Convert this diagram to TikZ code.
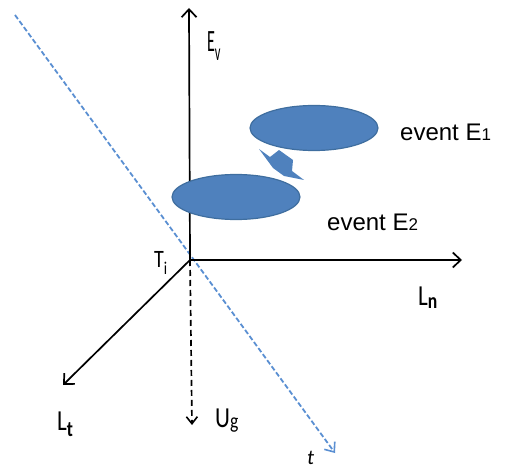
\documentclass[tikz,border=0pt]{standalone}
\usepackage{fontspec}
\setmainfont{Liberation Sans}
\newfontfamily\carl{Carlito}
\usetikzlibrary{arrows.meta,shapes.geometric}
\definecolor{evfill}{HTML}{4F81BD}
\definecolor{evline}{HTML}{3F6E9F}
\definecolor{tline}{HTML}{5A8FD2}
\tikzset{
  axis/.style={line width=1.7pt,-{Straight Barb[length=8pt,width=15pt,line width=1.7pt]}},
  dashaxis/.style={line width=1.7pt,dash pattern=on 6pt off 4pt,-{Straight Barb[length=7pt,width=11pt,line width=1.6pt]}},
  tarrow/.style={line width=1.8pt,color=tline,dash pattern=on 5pt off 2.5pt,-{Straight Barb[length=8pt,width=13pt,line width=1.6pt]}},
  evnode/.style={ellipse,fill=evfill,draw=evline,line width=1.2pt,minimum width=128pt,minimum height=45pt,inner sep=0pt},
  evtext/.style={anchor=base west,inner sep=0pt,font=\fontsize{24}{24}\selectfont},
  axlab/.style={anchor=base west,inner sep=0pt,font=\carl\fontsize{29}{29}\selectfont,xscale=0.8}
}
\begin{document}
\begin{tikzpicture}[x=1pt,y=-1pt]
\useasboundingbox (0,0) rectangle (511,470);
\coordinate (O) at (190,260);
\coordinate (ev) at (189,8);
\coordinate (ln) at (462,260);
\coordinate (lt) at (63,385);
\coordinate (ug) at (192,425);
\coordinate (ts) at (15,15);
\coordinate (te) at (335,453);
% axes
\draw[tarrow] (ts) -- (te);
\draw[axis] (O) -- (ev);
\draw[axis] (O) -- (ln);
\draw[axis] (O) -- (lt);
\draw[dashaxis] (O) -- (ug);
% events
\node[evnode] (e1) at (314,128) {};
\node[evnode] (e2) at (236,197) {};
\fill[evfill] (259,149) -- (270,157) -- (279,150) -- (293,160) -- (292,171) -- (304,180) -- (284,176) -- (273,168) -- cycle;
\node[evtext] (l1) at (400,141) {event E{\fontsize{17}{17}\selectfont 1}};
\node[evtext] (l2) at (327,231) {event E{\fontsize{17}{17}\selectfont 2}};
% axis labels
\node[axlab,font=\carl\fontsize{31}{31}\selectfont,xscale=0.65] (lev) at (207,52) {E\raisebox{-9pt}{\fontsize{24}{24}\selectfont v}};
\node[axlab,font=\carl\fontsize{25}{25}\selectfont] (lti) at (154,268) {T\raisebox{-6pt}{\fontsize{18}{18}\selectfont i}};
\node[axlab] (lln) at (418,305) {L\raisebox{-4pt}{\fontsize{22}{22}\selectfont\bfseries n}};
\node[axlab] (llt) at (57,430) {L\raisebox{-6pt}{\fontsize{22}{22}\selectfont\bfseries t}};
\node[axlab] (lug) at (215,427) {U\raisebox{-1pt}{\fontsize{22}{22}\selectfont g}};
\node[anchor=base west,inner sep=0pt,font=\carl\itshape\fontsize{21}{21}\selectfont] (lt2) at (307,464) {t};
\end{tikzpicture}
\end{document}
